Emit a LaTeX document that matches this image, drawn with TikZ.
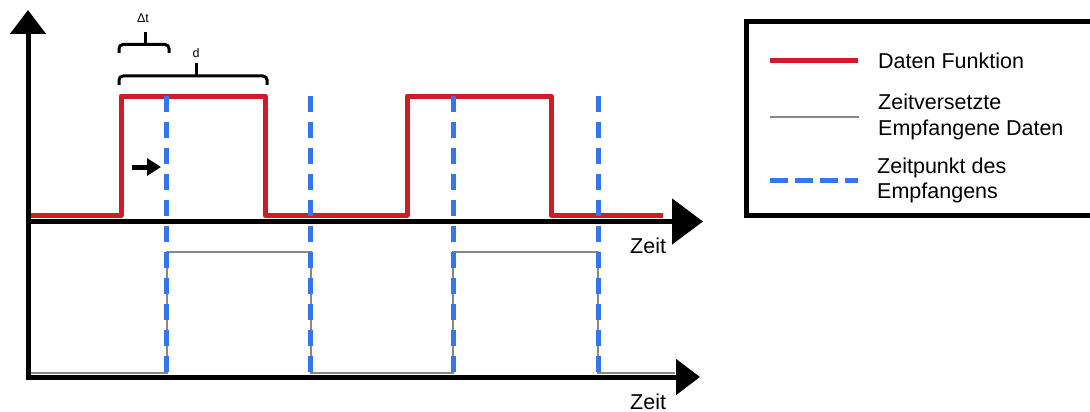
\documentclass[tikz,border=0pt]{standalone}
\usepackage{fontspec}
\setmainfont{Liberation Sans}
\usetikzlibrary{arrows.meta}
\definecolor{datred}{RGB}{208,28,38}
\definecolor{recblue}{RGB}{51,119,240}
\definecolor{recgray}{RGB}{136,136,136}
\tikzset{
  axisline/.style={line width=5pt, black},
  redline/.style={line width=5pt, datred, line join=round},
  grayline/.style={line width=2.5pt, recgray},
  bluedash/.style={line width=5pt, recblue, dash pattern=on 16pt off 10pt},
  lbl/.style={inner sep=0pt, font=\fontsize{21.5}{25}\selectfont},
  smalllbl/.style={inner sep=0pt, font=\fontsize{12.5}{14}\selectfont},
  bracestyle/.style={line width=3pt, black, rounded corners=4pt}
}
\begin{document}
\begin{tikzpicture}[x=1pt,y=-1pt]
\useasboundingbox (0,0) rectangle (1090,412);
\clip (0,0) rectangle (1090,412);
% coordinates
\coordinate (origin) at (28,380);
\coordinate (ytip) at (28,10);
\coordinate (topaxL) at (28,221.5);
\coordinate (topaxR) at (703,221.5);
\coordinate (botaxL) at (25.5,377);
\coordinate (botaxR) at (700,377);
% red data function
\draw[redline] (28,215) -- (121,215) -- (121,96) -- (265,96) -- (265,215)
  -- (407,215) -- (407,96) -- (551,96) -- (551,215) -- (663,215);
% gray received data
\draw[grayline] (29,373) -- (167,373) -- (167,252) -- (311,252) -- (311,373)
  -- (453,373) -- (453,252) -- (598,252) -- (598,373) -- (675,373);
% blue dashed sampling instants
\foreach \xx in {166,310,453,598} {
  \draw[bluedash] (\xx,96) -- (\xx,376);
}
% axes
\draw[axisline, -{Triangle[length=24pt,width=35pt]}] (origin) -- (ytip);
\draw[axisline, -{Triangle[length=31pt,width=45pt]}] (topaxL) -- (topaxR);
\draw[axisline, -{Triangle[length=24pt,width=35pt]}] (botaxL) -- (botaxR);
\node[lbl, anchor=base west] (zeit1) at (630,253) {Zeit};
\node[lbl, anchor=base west] (zeit2) at (630,409) {Zeit};
% small arrow
\coordinate (sarrA) at (132,167);
\coordinate (sarrB) at (161,167);
\draw[line width=5pt, -{Triangle[length=14pt,width=17pt]}] (sarrA) -- (sarrB);
% braces
\draw[bracestyle] (119,53) -- (119,44.5) -- (169,44.5) -- (169,53);
\draw[line width=3pt] (145,44.5) -- (145,32);
\node[smalllbl, anchor=base] (dtlbl) at (143,23) {Δt};
\draw[bracestyle] (119,85) -- (119,76) -- (267,76) -- (267,85);
\draw[line width=3pt] (196,76) -- (196,63);
\node[smalllbl, anchor=base] (dlbl) at (196,58) {d};
% legend
\draw[line width=5pt] (746,21.5) rectangle (1100,215.5);
\draw[redline] (770,61) -- (858,61);
\node[lbl, anchor=base west] (leg1) at (878,69) {Daten Funktion};
\draw[grayline] (770,117) -- (859,117);
\node[lbl, anchor=base west] (leg2a) at (878,110) {Zeitversetzte};
\node[lbl, anchor=base west] (leg2b) at (878,135) {Empfangene Daten};
\draw[line width=5pt, recblue, dash pattern=on 18pt off 7pt] (770,180) -- (858,180);
\node[lbl, anchor=base west] (leg3a) at (877,173) {Zeitpunkt des};
\node[lbl, anchor=base west] (leg3b) at (877,198) {Empfangens};
\end{tikzpicture}
\end{document}
